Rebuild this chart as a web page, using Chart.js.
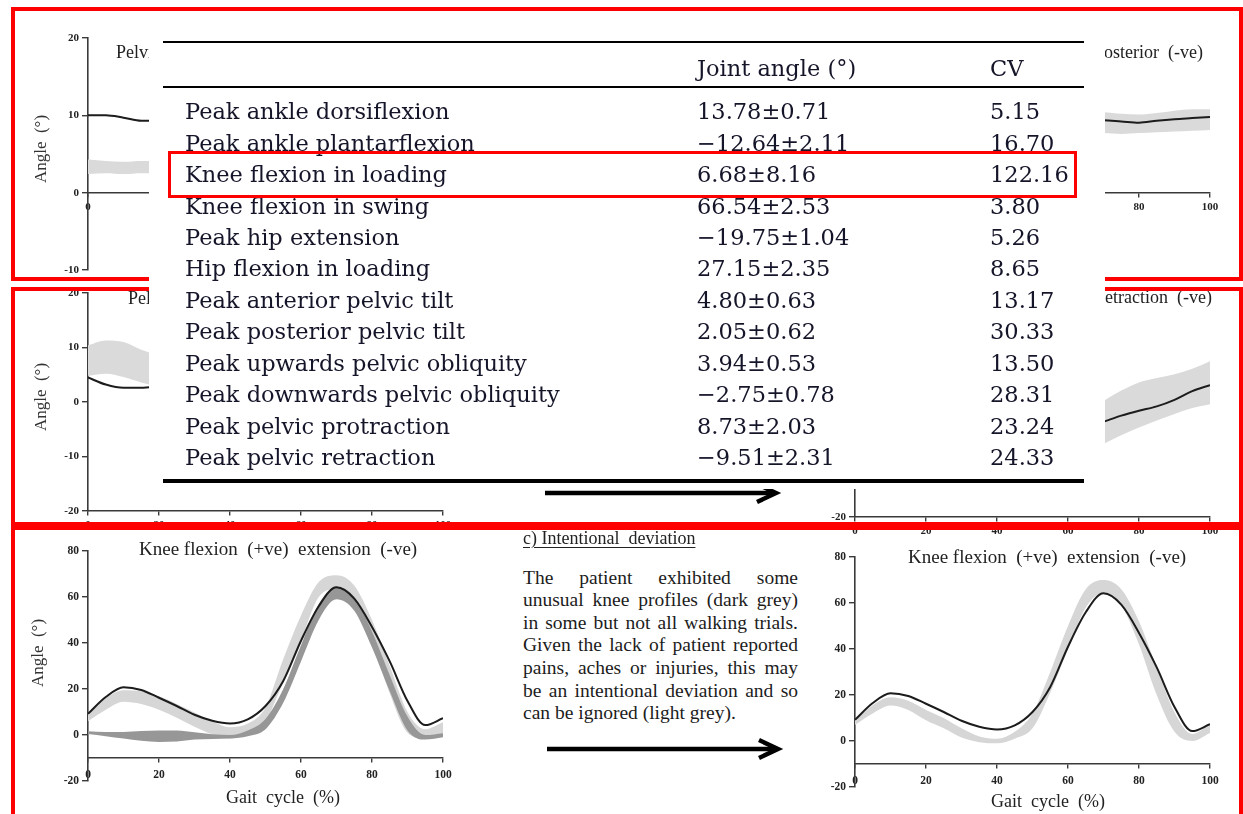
<!DOCTYPE html>
<html>
<head>
<meta charset="utf-8">
<script src="https://cdn.jsdelivr.net/npm/chart.js@4.4.1/dist/chart.umd.min.js"></script>
<style>
  html, body { margin: 0; padding: 0; background: #fff; }
  body { position: relative; width: 1243px; height: 814px; overflow: hidden; font-family: 'Liberation Serif', 'Times New Roman', serif; color: #222; }
  .plot { position: absolute; }
  .frame { position: absolute; box-sizing: border-box; border: 4px solid #ff0000; }
  .ttl { position: absolute; white-space: pre; font-size: 18px; line-height: 20px; color: #222; }
  .ylab { position: absolute; white-space: pre; font-size: 17px; line-height: 20px; color: #333; transform: translate(-50%, -50%) rotate(-90deg); }
  .xlab { position: absolute; white-space: pre; font-size: 18px; line-height: 20px; color: #222; transform: translate(-50%, -50%); }
  .note-head { position: absolute; left: 523px; top: 528px; font-size: 18px; line-height: 20px; white-space: pre; text-decoration: underline; text-underline-offset: 3px; color: #222; }
  .note { position: absolute; left: 523px; width: 275px; font-size: 19.5px; line-height: 22px; height: 22px; text-align: justify; text-align-last: justify; white-space: nowrap; color: #1c1c1c; }
  .note.last { text-align-last: left; }
  #arrows { position: absolute; left: 0; top: 0; }
  #table { position: absolute; left: 149px; top: 30px; width: 956px; height: 459px; background: #fff; font-family: 'DejaVu Serif', serif; font-size: 22.5px; color: #15152a; }
  #table .rule { position: absolute; left: 14px; width: 921px; background: #000; }
  #table .cell { position: absolute; white-space: pre; line-height: 30px; height: 30px; }
  #highlight { position: absolute; left: 168px; top: 151px; width: 909px; height: 47px; box-sizing: border-box; border: 3px solid #ff0000; }
</style>
</head>
<body>

<script>
// ---------------- gait data (angle in degrees vs % gait cycle) ----------------
const gaitPct = [0, 5, 10, 15, 20, 25, 30, 35, 40, 45, 50, 55, 60, 65, 70, 75, 80, 85, 90, 95, 100];

// knee flexion (+ve) / extension (-ve): reference mean curve
const kneeMean    = [9.2, 16.5, 20.8, 19.6, 16.2, 12.6, 8.8, 6.2, 5.0, 6.8, 12.6, 23.5, 41.0, 56.0, 64.2, 59.3, 47.0, 32.0, 14.8, 4.3, 7.3];
// patient trials, light grey band (all trials)
const kneeLightHi = [9.0, 16.0, 19.5, 19.0, 16.8, 13.5, 9.8, 6.0, 3.4, 5.0, 12.0, 33.0, 52.0, 66.5, 69.5, 65.0, 50.0, 30.0, 10.0, 2.5, 5.5];
const kneeLightLo = [6.0, 11.0, 14.5, 13.5, 11.0, 7.5, 3.6, 0.3, -1.5, 0.5, 6.0, 23.0, 41.0, 60.0, 63.5, 57.5, 41.0, 18.0, 1.0, -1.5, 0.0];
// patient trials, dark grey band (unusual profiles)
const kneeDarkHi  = [1.6, 1.3, 1.3, 1.7, 2.0, 2.0, 1.2, 0.3, 0.0, 2.0, 7.0, 20.0, 39.0, 57.0, 64.5, 60.0, 45.0, 26.0, 8.0, 0.0, 0.8];
const kneeDarkLo  = [0.4, -0.5, -1.5, -2.5, -3.0, -2.8, -2.0, -1.7, -1.5, -0.5, 2.5, 14.0, 32.0, 50.0, 59.0, 54.0, 38.0, 19.0, 2.0, -2.0, -1.0];
// patient trials kept after removing the unusual profiles
const kneeKeptHi  = [9.0, 15.5, 19.0, 17.5, 13.5, 10.0, 5.5, 2.0, 1.0, 4.0, 12.0, 30.0, 50.0, 66.0, 70.0, 66.0, 52.0, 32.0, 12.5, 3.0, 7.5];
const kneeKeptLo  = [7.0, 12.0, 15.4, 13.5, 9.0, 5.5, 1.5, -0.5, -1.0, 1.0, 5.5, 21.0, 40.0, 58.0, 64.5, 59.0, 42.0, 20.0, 4.0, 0.0, 3.5];

// pelvic tilt, start of cycle (left panel) and end of cycle (right panel)
const tiltPctA   = [0, 5, 10, 15, 20];
const tiltMeanA  = [10.0, 10.0, 9.7, 9.3, 9.3];
const tiltHiA    = [4.3, 4.1, 4.0, 4.1, 4.1];
const tiltLoA    = [2.4, 2.5, 2.4, 2.5, 2.5];
const tiltPctB   = [65, 70, 75, 80, 85, 90, 95, 100];
const tiltMeanB  = [9.4, 9.35, 9.2, 9.05, 9.3, 9.5, 9.65, 9.8];
const tiltHiB    = [10.4, 10.4, 10.2, 10.1, 10.3, 10.6, 10.8, 10.8];
const tiltLoB    = [7.8, 7.7, 7.6, 7.7, 7.8, 7.9, 8.0, 8.1];

// pelvic protraction / retraction
const rotPctA    = [0, 5, 10, 15, 20];
const rotMeanA   = [4.5, 3.2, 2.6, 2.6, 2.9];
const rotHiA     = [10.4, 11.3, 11.0, 9.6, 8.5];
const rotLoA     = [4.8, 5.2, 4.6, 3.6, 2.8];
const rotPctB    = [65, 70, 75, 80, 85, 90, 95, 100];
const rotMeanB   = [-3.2, -2.5, -1.4, -0.5, 0.3, 1.5, 3.1, 4.2];
const rotHiB     = [-0.5, 1.3, 3.2, 4.7, 5.5, 6.2, 7.2, 8.6];
const rotLoB     = [-8.0, -6.6, -5.0, -3.6, -2.3, -1.1, 0.0, 0.7];

// ---------------- table: joint angle summary ----------------
const measures = [
  'Peak ankle dorsiflexion', 'Peak ankle plantarflexion', 'Knee flexion in loading',
  'Knee flexion in swing', 'Peak hip extension', 'Hip flexion in loading',
  'Peak anterior pelvic tilt', 'Peak posterior pelvic tilt', 'Peak upwards pelvic obliquity',
  'Peak downwards pelvic obliquity', 'Peak pelvic protraction', 'Peak pelvic retraction'
];
const angleMean = [13.78, -12.64, 6.68, 66.54, -19.75, 27.15, 4.80, 2.05, 3.94, -2.75, 8.73, -9.51];
const angleSD   = [0.71, 2.11, 8.16, 2.53, 1.04, 2.35, 0.63, 0.62, 0.53, 0.78, 2.03, 2.31];
const angleCV   = [5.15, 16.70, 122.16, 3.80, 5.26, 8.65, 13.17, 30.33, 13.50, 28.31, 23.24, 24.33];
const tableHead = ['Joint angle (°)', 'CV'];
</script>

<script>
const AXIS = '#3a3a3a';
const Y_W = 50, P_T = 10, P_R = 16, P_B = 26;

function pts(xs, ys) { return xs.map((x, i) => ({ x: x, y: ys[i] })); }

function meanLine(xs, ys) {
  return { data: pts(xs, ys), borderColor: '#1c1c1c', borderWidth: 2, fill: false };
}
function bandEdges(xs, hi, lo, color) {
  return [
    { data: pts(xs, hi), borderWidth: 0, borderColor: 'rgba(0,0,0,0)', fill: false },
    { data: pts(xs, lo), borderWidth: 0, borderColor: 'rgba(0,0,0,0)', fill: '-1', backgroundColor: color }
  ];
}

// area = chart-area rectangle on the page; the y axis sits on area.l
function gaitPlot(area, yMin, yMax, yStep, xAt, datasets, tickSize, xPad) {
  const w = Math.round(area.r - area.l + Y_W + P_R);
  const h = Math.round(area.b - area.t + P_T + P_B);
  const cv = document.createElement('canvas');
  cv.className = 'plot';
  cv.width = w; cv.height = h;
  cv.style.left = (area.l - Y_W) + 'px';
  cv.style.top = (area.t - P_T) + 'px';
  cv.style.width = w + 'px'; cv.style.height = h + 'px';
  document.body.appendChild(cv);
  const tickFont = { family: "'Liberation Serif', serif", size: tickSize, weight: 'bold' };
  new Chart(cv, {
    type: 'line',
    data: { datasets: datasets },
    options: {
      responsive: false, animation: false, events: [],
      layout: { padding: { top: P_T, right: P_R, bottom: P_B, left: 0 } },
      plugins: { legend: { display: false }, tooltip: { enabled: false } },
      elements: { point: { radius: 0 }, line: { cubicInterpolationMode: 'monotone' } },
      scales: {
        x: {
          type: 'linear', min: 0, max: 100, position: { y: xAt },
          afterFit: s => { s.height = 0; },
          border: { display: true, color: AXIS, width: 1.6 },
          grid: { display: true, drawOnChartArea: false, drawTicks: true, tickLength: 4, color: AXIS, lineWidth: 1.4 },
          ticks: { stepSize: 20, autoSkip: false, maxRotation: 0, padding: xPad, color: '#222', font: tickFont }
        },
        y: {
          type: 'linear', min: yMin, max: yMax,
          afterFit: s => { s.width = Y_W; },
          border: { display: true, color: AXIS, width: 1.6 },
          grid: { display: true, drawOnChartArea: false, drawTicks: true, tickLength: 6, color: AXIS, lineWidth: 1.4 },
          ticks: { stepSize: yStep, padding: 3, color: '#222', font: tickFont }
        }
      }
    }
  });
}

const LIGHT = '#d6d6d6';
const DARK = '#979797';

// row 1 – pelvic tilt
gaitPlot({ l: 88, r: 443, t: 38, b: 270 }, -10, 20, 10, 0,
  [meanLine(tiltPctA, tiltMeanA)].concat(bandEdges(tiltPctA, tiltHiA, tiltLoA, '#dadada')), 11, 4);
gaitPlot({ l: 855, r: 1210, t: 38, b: 270 }, -10, 20, 10, 0,
  [meanLine(tiltPctB, tiltMeanB)].concat(bandEdges(tiltPctB, tiltHiB, tiltLoB, '#dadada')), 11, 4);

// row 2 – pelvic protraction / retraction
gaitPlot({ l: 88, r: 443, t: 293, b: 511 }, -20, 20, 10, -20,
  [meanLine(rotPctA, rotMeanA)].concat(bandEdges(rotPctA, rotHiA, rotLoA, '#dadada')), 11, 4);
gaitPlot({ l: 855, r: 1210, t: 299, b: 517 }, -20, 20, 10, -20,
  [meanLine(rotPctB, rotMeanB)].concat(bandEdges(rotPctB, rotHiB, rotLoB, '#dadada')), 11, 4);

// row 3 – knee, all trials (left) and after ignoring the deviation (right)
gaitPlot({ l: 88, r: 443, t: 551, b: 781 }, -20, 80, 20, -10,
  [meanLine(gaitPct, kneeMean)]
    .concat(bandEdges(gaitPct, kneeDarkHi, kneeDarkLo, DARK))
    .concat(bandEdges(gaitPct, kneeLightHi, kneeLightLo, LIGHT)), 11.5, 6);
gaitPlot({ l: 855, r: 1210, t: 557, b: 787 }, -20, 80, 20, -10,
  [meanLine(gaitPct, kneeMean)]
    .concat(bandEdges(gaitPct, kneeKeptHi, kneeKeptLo, LIGHT)), 11.5, 6);
</script>

<!-- panel titles and axis labels -->
<div class="ttl" style="left:116px; top:42px;">Pelvic tilt  anterior  (+ve)  posterior  (-ve)</div>
<div class="ttl" style="right:40px; top:42px;">Pelvic tilt  anterior  (+ve)  posterior  (-ve)</div>
<div class="ttl" style="left:128px; top:288px;">Pelvic  protraction  (+ve)  retraction  (-ve)</div>
<div class="ttl" style="right:31px; top:287px;">Pelvic  protraction  (+ve)  retraction  (-ve)</div>
<div class="ttl" style="left:139px; top:539px; font-size:19px;">Knee flexion  (+ve)  extension  (-ve)</div>
<div class="ttl" style="left:908px; top:547px; font-size:19px;">Knee flexion  (+ve)  extension  (-ve)</div>

<div class="ylab" style="left:41px; top:149px;">Angle  (°)</div>
<div class="ylab" style="left:41px; top:397px;">Angle  (°)</div>
<div class="ylab" style="left:38px; top:653px;">Angle  (°)</div>
<div class="xlab" style="left:283px; top:797px;">Gait  cycle  (%)</div>
<div class="xlab" style="left:1048px; top:801px;">Gait  cycle  (%)</div>

<!-- explanatory note between the knee panels -->
<div class="note-head">c) Intentional  deviation</div>
<div class="note" style="top:567px;">The patient exhibited some</div>
<div class="note" style="top:589px;">unusual knee profiles (dark grey)</div>
<div class="note" style="top:612px;">in some but not all walking trials.</div>
<div class="note" style="top:634px;">Given the lack of patient reported</div>
<div class="note" style="top:657px;">pains, aches or injuries, this may</div>
<div class="note" style="top:680px;">be an intentional deviation and so</div>
<div class="note last" style="top:702px;">can be ignored (light grey).</div>

<svg id="arrows" width="1243" height="814">
  <g stroke="#000" stroke-width="4.5" fill="none" stroke-linejoin="miter">
    <line x1="545" y1="493" x2="774" y2="493"/>
    <polyline points="757,484 776,493 757,502"/>
    <line x1="547" y1="749" x2="776" y2="749"/>
    <polyline points="759,740 778,749 759,758"/>
  </g>
</svg>

<!-- section frames -->
<div class="frame" style="left:11px; top:7px; width:1232px; height:274px;"></div>
<div class="frame" style="left:11px; top:287px; width:1232px; height:239px;"></div>
<div class="frame" style="left:11px; top:526px; width:1232px; height:400px;"></div>

<!-- summary table -->
<div id="table"></div>
<div id="highlight"></div>

<script>
(function () {
  const tbl = document.getElementById('table');
  const ox = 149, oy = 30;   // table origin on the page
  function rule(y, h) {
    const d = document.createElement('div');
    d.className = 'rule';
    d.style.top = (y - oy) + 'px';
    d.style.height = h + 'px';
    tbl.appendChild(d);
  }
  function cell(text, x, cy) {
    const d = document.createElement('div');
    d.className = 'cell';
    d.textContent = text;
    d.style.left = (x - ox) + 'px';
    d.style.top = (cy - 15 - oy) + 'px';
    tbl.appendChild(d);
  }
  function fmt(v) { return (v < 0 ? '\u2212' : '') + Math.abs(v).toFixed(2); }

  rule(41, 2);
  rule(86, 2);
  rule(479, 4);
  cell(tableHead[0], 697, 68);
  cell(tableHead[1], 990, 68);
  measures.forEach((m, i) => {
    const cy = 111.3 + i * 31.43;
    cell(m, 185, cy);
    cell(fmt(angleMean[i]) + '\u00b1' + angleSD[i].toFixed(2), 697, cy);
    cell(angleCV[i].toFixed(2), 990, cy);
  });
})();
</script>
</body>
</html>
